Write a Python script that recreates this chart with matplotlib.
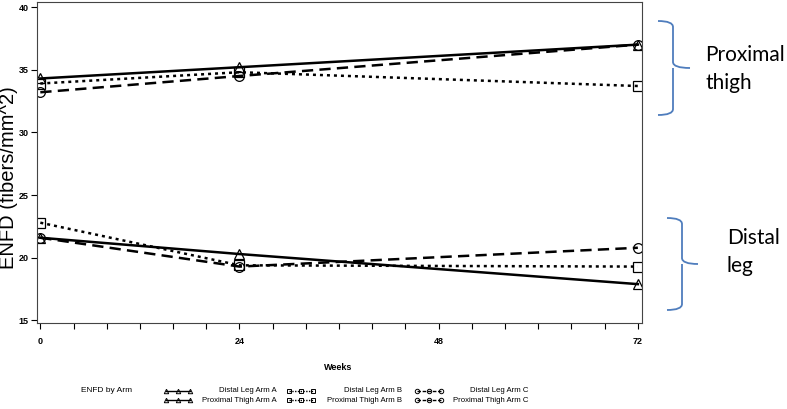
import matplotlib
matplotlib.use('Agg')
import matplotlib.pyplot as plt
from matplotlib.lines import Line2D
from matplotlib.path import Path
from matplotlib.patches import PathPatch

# ENFD values
weeks = [0, 24, 72]
prox_a = [34.3, 35.2, 37.0]
prox_b = [33.9, 34.8, 33.7]
prox_c = [33.2, 34.5, 37.0]
dist_a = [21.6, 20.3, 17.9]
dist_b = [22.8, 19.4, 19.3]
dist_c = [21.6, 19.3, 20.8]

arms = ['A', 'B', 'C']
arm_styles = {
    'A': dict(ls='-', marker='^', dashes=None),
    'B': dict(ls=':', marker='s', dashes=(1.2, 1.6)),
    'C': dict(ls='--', marker='o', dashes=(4.5, 2.5)),
}
x_ticks = [0, 24, 48, 72]
y_ticks = [15, 20, 25, 30, 35, 40]

W, H = 787, 409
small_font = 'Liberation Sans'


def fx(px):
    return px / W


def fy(py):
    return 1 - py / H


fig = plt.figure(figsize=(W / 100, H / 100), dpi=100)
ax = fig.add_axes([fx(37), fy(323), fx(642) - fx(37), fy(2) - fy(323)])

series = {'A': (prox_a, dist_a), 'B': (prox_b, dist_b), 'C': (prox_c, dist_c)}
for arm in arms:
    st = arm_styles[arm]
    for vals in series[arm]:
        line, = ax.plot(weeks, vals, color='black', lw=1.8, ls=st['ls'],
                        marker=st['marker'], markersize=7, mfc='none',
                        mec='black', mew=0.9)
        if st['dashes']:
            line.set_dashes(st['dashes'])

ax.set_xlim(-0.4, 72.5)
ax.set_ylim(14.8, 40.4)
ax.set_xticks(x_ticks)
ax.set_xticks(range(0, 73, 4), minor=True)
ax.set_yticks(y_ticks)
ax.tick_params(axis='both', which='both', direction='out', length=4, width=0.8,
               labelsize=6.5)
ax.tick_params(axis='y', pad=2)
ax.tick_params(axis='x', pad=6)
for lab in ax.get_xticklabels() + ax.get_yticklabels():
    lab.set_family(small_font)
    lab.set_fontweight('bold')
for sp in ax.spines.values():
    sp.set_linewidth(0.8)
    sp.set_color('#444444')

fig.text(fx(9), fy(178), 'ENFD (fibers/mm^2)', rotation=90, ha='center',
         va='center', fontsize=14.5, family='Liberation Sans')
fig.text(fx(338), fy(367), 'Weeks', ha='center', va='center', fontsize=6.5,
         family=small_font, fontweight='bold')

# legend block built by hand (SAS style: handle, right-aligned label)
fig.text(fx(81), fy(391), 'ENFD by Arm', ha='left', va='center', fontsize=6,
         family=small_font)
handle_x = {'A': 166, 'B': 289, 'C': 417}
label_end = {'A': 277, 'B': 402, 'C': 528}
row_y = [391, 400]
row_names = ['Distal Leg Arm ', 'Proximal Thigh Arm ']
for arm in arms:
    st = arm_styles[arm]
    for r, ry in enumerate(row_y):
        x0 = handle_x[arm]
        ln = Line2D([fx(x0), fx(x0 + 12), fx(x0 + 24)], [fy(ry)] * 3,
                    transform=fig.transFigure, color='black', lw=1.0,
                    ls=st['ls'], marker=st['marker'], markersize=3.2,
                    mfc='none', mec='black', mew=0.7)
        if st['dashes']:
            ln.set_dashes((1, 1) if arm == 'B' else (2.5, 1.2))
        fig.add_artist(ln)
        fig.text(fx(label_end[arm]), fy(ry), row_names[r] + arm, ha='right',
                 va='center', fontsize=5.6, family=small_font)

# region braces on the right
brace_color = '#4f7dbd'


def brace(top, bottom, x_left, x_mid, x_tip):
    mid = (top + bottom) / 2
    r = 6
    verts = [(x_left, top), (x_mid, top), (x_mid, top + r),
             (x_mid, mid - r), (x_mid, mid), (x_tip, mid),
             (x_mid, mid), (x_mid, mid + r),
             (x_mid, bottom - r), (x_mid, bottom), (x_left, bottom)]
    codes = [Path.MOVETO, Path.CURVE3, Path.CURVE3,
             Path.LINETO, Path.CURVE3, Path.CURVE3,
             Path.MOVETO, Path.CURVE3, Path.LINETO,
             Path.CURVE3, Path.CURVE3]
    verts = [(fx(x), fy(y)) for x, y in verts]
    fig.add_artist(PathPatch(Path(verts, codes), transform=fig.transFigure,
                             fill=False, edgecolor=brace_color, lw=1.3))


brace(21, 115, 658, 673, 690)
brace(218, 310, 667, 682, 698)

fig.text(fx(705), fy(55), 'Proximal', ha='left', va='center', fontsize=15,
         family='Lato')
fig.text(fx(705), fy(83), 'thigh', ha='left', va='center', fontsize=15,
         family='Lato')
fig.text(fx(727), fy(238), 'Distal', ha='left', va='center', fontsize=15,
         family='Lato')
fig.text(fx(727), fy(266), 'leg', ha='left', va='center', fontsize=15,
         family='Lato')

fig.savefig('out.png', dpi=100)
